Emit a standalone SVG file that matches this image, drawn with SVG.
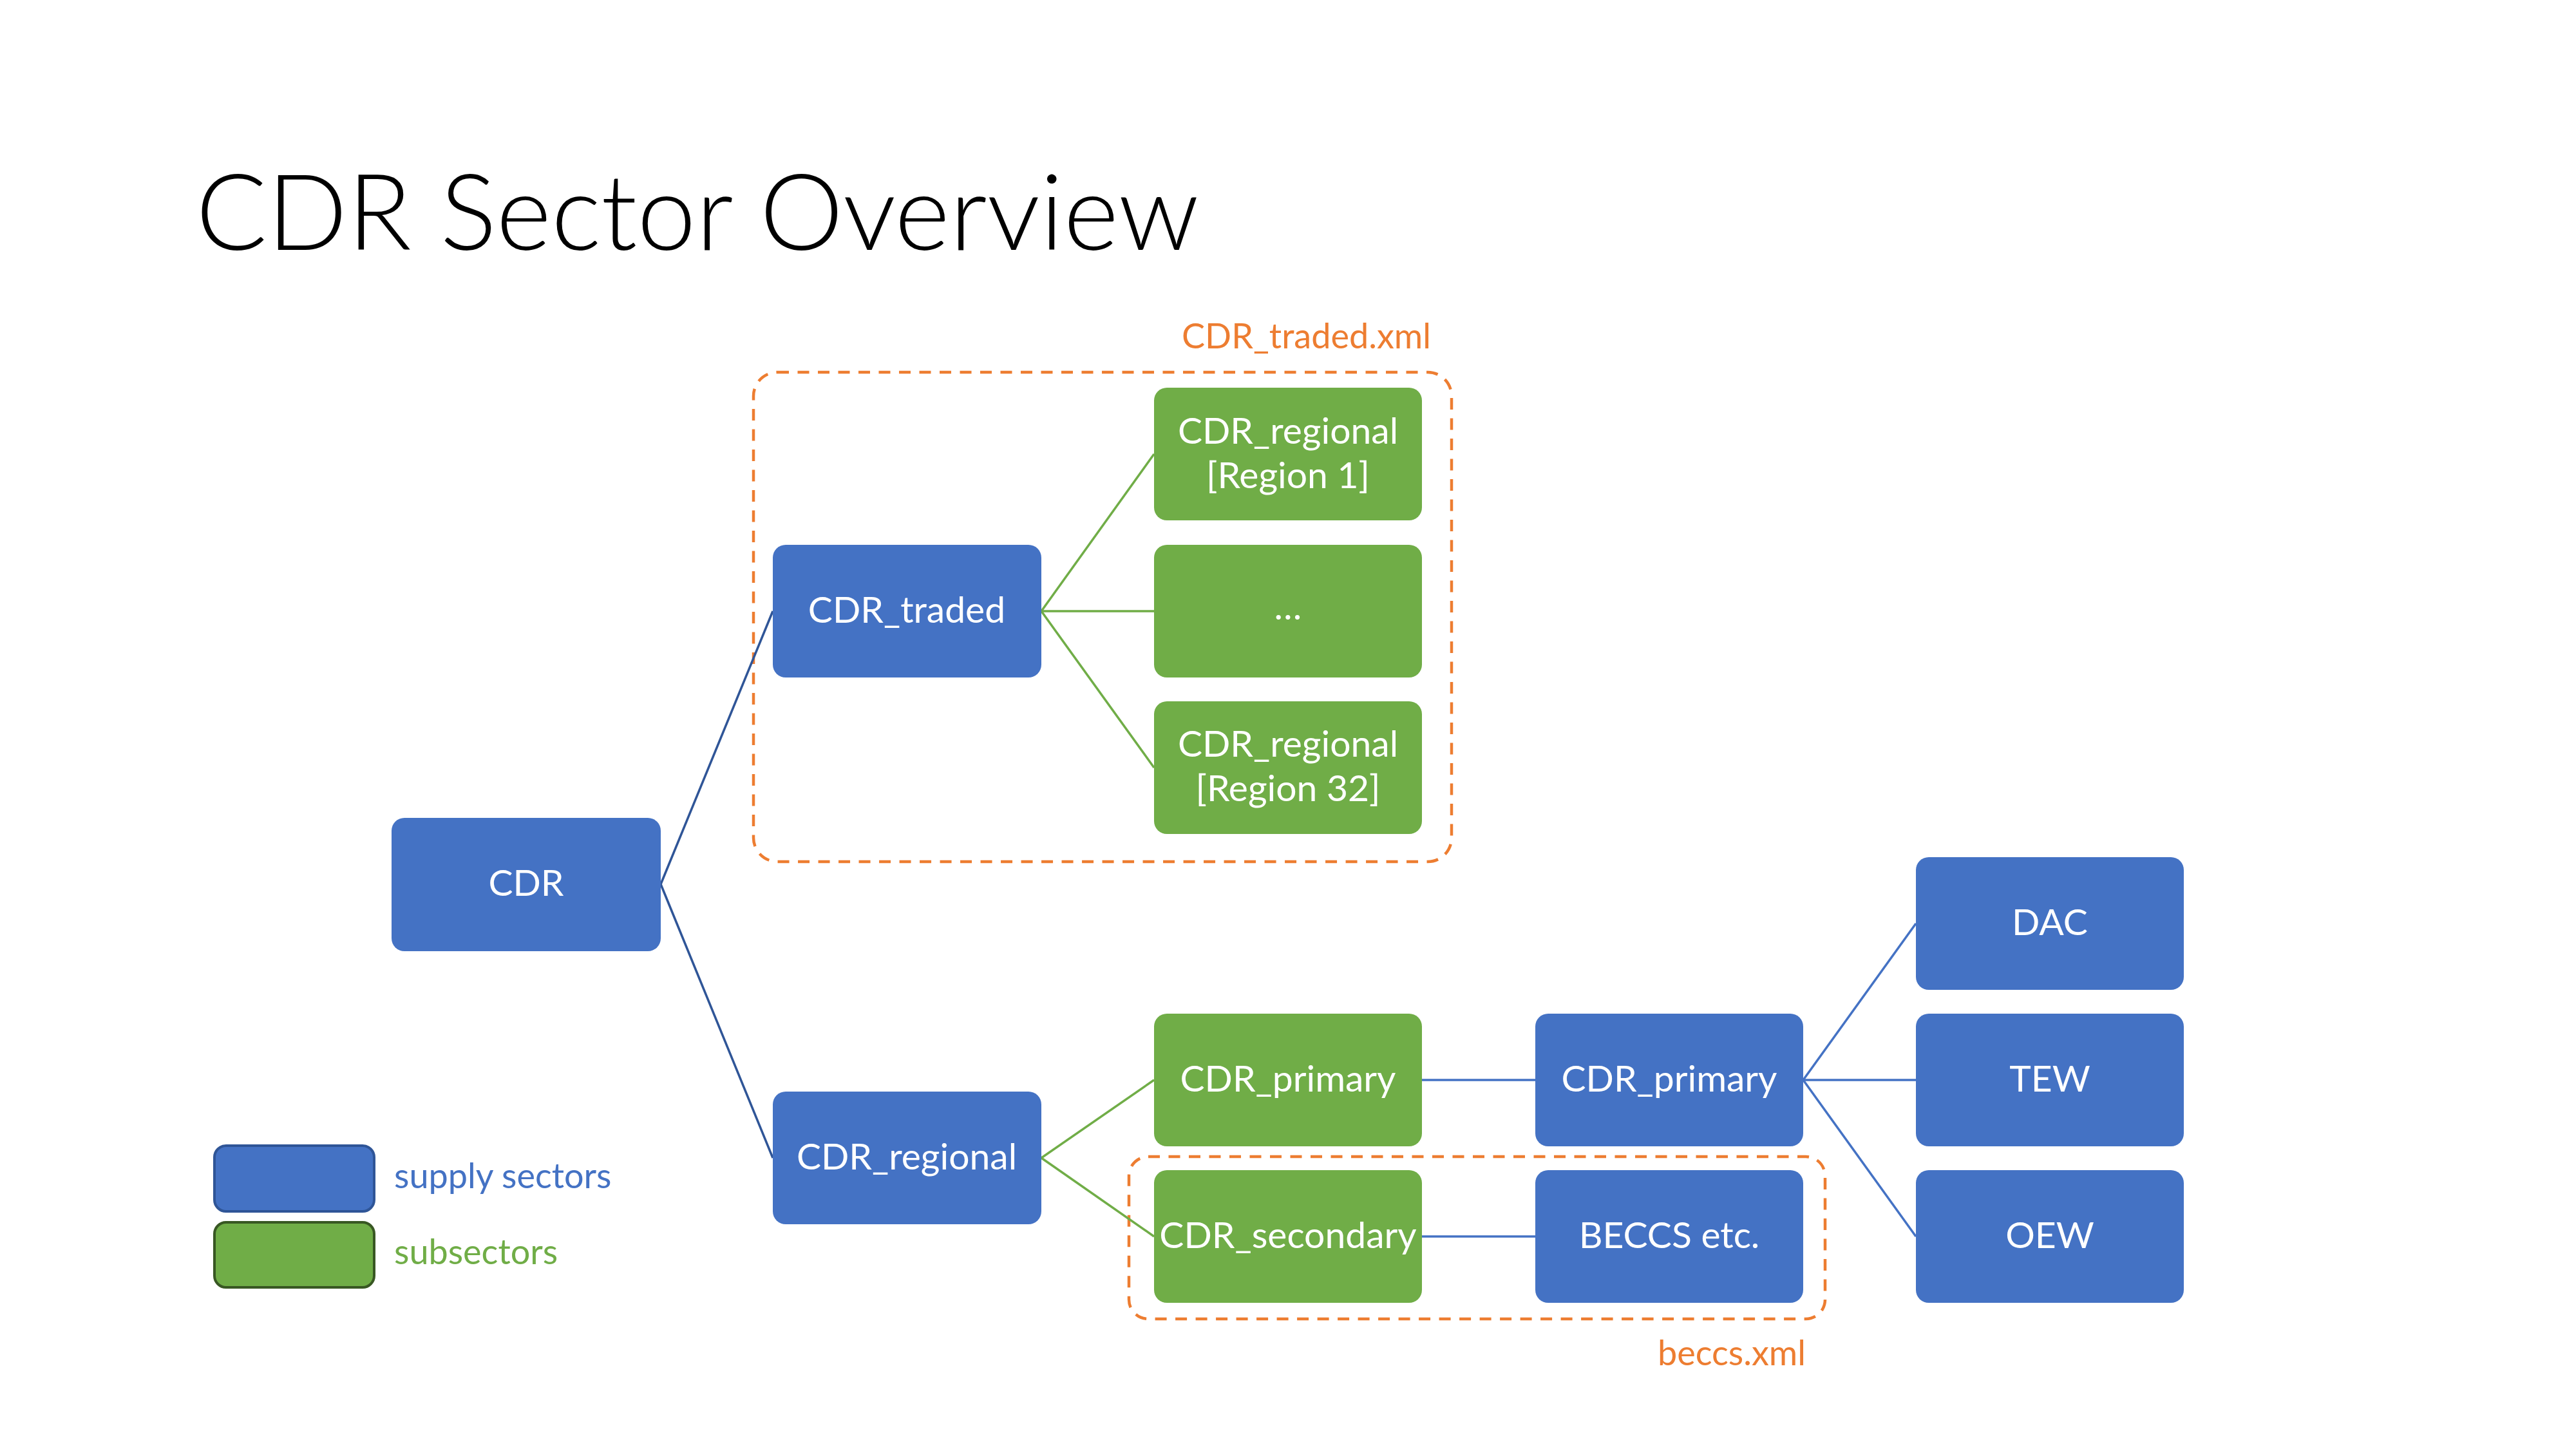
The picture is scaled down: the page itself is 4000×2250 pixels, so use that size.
<svg xmlns="http://www.w3.org/2000/svg" width="4000" height="2250" viewBox="0 0 4000 2250">
<style>
  .sup rect { fill: #4472C4; }
  .sub rect { fill: #70AD47; }
  .lbl { font-family: Lato, "Open Sans", "Liberation Sans", sans-serif; font-size: 57px; fill: #FFFFFF; text-anchor: middle; }
  .title { font-family: Lato, "Open Sans", "Liberation Sans", sans-serif; font-weight: 300; font-size: 164px; fill: #000000; }
  .file { font-family: Lato, "Open Sans", "Liberation Sans", sans-serif; font-size: 54px; fill: #ED7D31; text-anchor: end; }
  .leg { font-family: Lato, "Open Sans", "Liberation Sans", sans-serif; font-size: 54px; }
  .dash { fill: none; stroke: #ED7D31; stroke-width: 4.5; stroke-dasharray: 18 13.5; }
  .cb { stroke: #2F5597; stroke-width: 3.5; fill: none; }
  .cb2 { stroke: #4472C4; stroke-width: 3.5; fill: none; }
  .cg { stroke: #70AD47; stroke-width: 3.5; fill: none; }
</style>
<rect x="0" y="0" width="4000" height="2250" fill="#FFFFFF"/>
<text class="title" x="304" y="388">CDR Sector Overview</text>

<g id="file-groups">
  <rect class="dash" x="1170" y="578" width="1084" height="760" rx="37"/>
  <text class="file" x="2222" y="541">CDR_traded.xml</text>
  <rect class="dash" x="1753" y="1796" width="1081" height="252" rx="30"/>
  <text class="file" x="2804" y="2120">beccs.xml</text>
</g>

<g id="connectors">
  <line class="cb" x1="1026" y1="1373" x2="1200" y2="949"/>
  <line class="cb" x1="1026" y1="1373" x2="1200" y2="1798"/>
  <line class="cg" x1="1617" y1="949" x2="1792" y2="705"/>
  <line class="cg" x1="1617" y1="949" x2="1792" y2="949"/>
  <line class="cg" x1="1617" y1="949" x2="1792" y2="1192"/>
  <line class="cg" x1="1617" y1="1798" x2="1792" y2="1677"/>
  <line class="cg" x1="1617" y1="1798" x2="1792" y2="1920"/>
  <line class="cb2" x1="2208" y1="1677" x2="2384" y2="1677"/>
  <line class="cb2" x1="2208" y1="1920" x2="2384" y2="1920"/>
  <line class="cb2" x1="2800" y1="1677" x2="2975" y2="1434"/>
  <line class="cb2" x1="2800" y1="1677" x2="2975" y2="1677"/>
  <line class="cb2" x1="2800" y1="1677" x2="2975" y2="1920"/>
</g>

<g id="node-cdr" class="sup"><rect x="608" y="1270" width="418" height="207" rx="20"/><text class="lbl" x="817" y="1391">CDR</text></g>
<g id="node-cdr-traded" class="sup"><rect x="1200" y="846" width="417" height="206" rx="20"/><text class="lbl" x="1408" y="967">CDR_traded</text></g>
<g id="node-region1" class="sub"><rect x="1792" y="602" width="416" height="206" rx="20"/><text class="lbl" x="2000" y="689">CDR_regional</text><text class="lbl" x="2000" y="758">[Region 1]</text></g>
<g id="node-dots" class="sub"><rect x="1792" y="846" width="416" height="206" rx="20"/><text class="lbl" x="2000" y="962">…</text></g>
<g id="node-region32" class="sub"><rect x="1792" y="1089" width="416" height="206" rx="20"/><text class="lbl" x="2000" y="1175">CDR_regional</text><text class="lbl" x="2000" y="1244">[Region 32]</text></g>
<g id="node-cdr-regional" class="sup"><rect x="1200" y="1695" width="417" height="206" rx="20"/><text class="lbl" x="1408" y="1816">CDR_regional</text></g>
<g id="node-cdr-primary-sub" class="sub"><rect x="1792" y="1574" width="416" height="206" rx="20"/><text class="lbl" x="2000" y="1695">CDR_primary</text></g>
<g id="node-cdr-secondary" class="sub"><rect x="1792" y="1817" width="416" height="206" rx="20"/><text class="lbl" x="2000" y="1938">CDR_secondary</text></g>
<g id="node-cdr-primary" class="sup"><rect x="2384" y="1574" width="416" height="206" rx="20"/><text class="lbl" x="2592" y="1695">CDR_primary</text></g>
<g id="node-beccs" class="sup"><rect x="2384" y="1817" width="416" height="206" rx="20"/><text class="lbl" x="2592" y="1938">BECCS etc.</text></g>
<g id="node-dac" class="sup"><rect x="2975" y="1331" width="416" height="206" rx="20"/><text class="lbl" x="3183" y="1452">DAC</text></g>
<g id="node-tew" class="sup"><rect x="2975" y="1574" width="416" height="206" rx="20"/><text class="lbl" x="3183" y="1695">TEW</text></g>
<g id="node-oew" class="sup"><rect x="2975" y="1817" width="416" height="206" rx="20"/><text class="lbl" x="3183" y="1938">OEW</text></g>

<g id="legend">
  <rect x="333" y="1779" width="248" height="102" rx="18" fill="#4472C4" stroke="#2F5597" stroke-width="4"/>
  <rect x="333" y="1898" width="248" height="101" rx="18" fill="#70AD47" stroke="#385723" stroke-width="4"/>
  <text class="leg" x="612" y="1845" fill="#4472C4">supply sectors</text>
  <text class="leg" x="612" y="1963" fill="#70AD47">subsectors</text>
</g>
</svg>
